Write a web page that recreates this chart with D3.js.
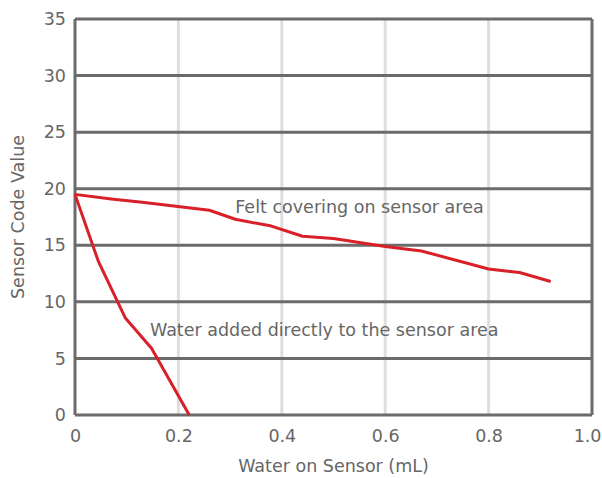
<!DOCTYPE html>
<html>
<head>
<meta charset="utf-8">
<script src="https://cdn.jsdelivr.net/npm/d3@7"></script>
<style>
  body { margin: 0; background: #fff; }
  text { font-family: "DejaVu Sans", sans-serif; fill: #666; }
</style>
</head>
<body>
<svg id="chart"></svg>
<script>
// Felt covering on sensor area
const feltX = [0, 0.07, 0.13, 0.26, 0.31, 0.38, 0.44, 0.5, 0.6, 0.67, 0.8, 0.86, 0.92]
const feltY = [19.5, 19.1, 18.8, 18.1, 17.3, 16.7, 15.8, 15.6, 14.9, 14.5, 12.9, 12.6, 11.8]

// Water added directly to the sensor area
const waterX = [0, 0.045, 0.097, 0.148, 0.221]
const waterY = [19.5, 13.6, 8.6, 5.9, 0]

const xTicks = [0, 0.2, 0.4, 0.6, 0.8, 1.0]
const yTicks = [0, 5, 10, 15, 20, 25, 30, 35]

const W = 602, H = 478
const margin = { top: 19, right: 10, bottom: 63, left: 75 }
const width = W - margin.left - margin.right
const height = H - margin.top - margin.bottom
const fontSize = '17.5px'

const svg = d3.select('#chart')
    .attr('width', W)
    .attr('height', H)

const g = svg.append('g')
    .attr('transform', `translate(${margin.left},${margin.top})`)

const x = d3.scaleLinear().domain([0, 1]).range([0, width])
const y = d3.scaleLinear().domain([0, 35]).range([height, 0])

// Light vertical gridlines
g.selectAll('.vgrid')
    .data(xTicks.slice(1, -1))
    .enter()
    .append('line')
    .attr('x1', d => x(d)).attr('x2', d => x(d))
    .attr('y1', 0).attr('y2', height)
    .style('stroke', '#dedede')
    .style('stroke-width', 3)

// Dark horizontal gridlines
g.selectAll('.hgrid')
    .data(yTicks)
    .enter()
    .append('line')
    .attr('x1', 0).attr('x2', width)
    .attr('y1', d => y(d)).attr('y2', d => y(d))
    .style('stroke', '#6b6b6b')
    .style('stroke-width', 3)

// Side borders
g.selectAll('.side')
    .data([0, 1])
    .enter()
    .append('line')
    .attr('x1', d => x(d)).attr('x2', d => x(d))
    .attr('y1', 0).attr('y2', height)
    .style('stroke', '#6b6b6b')
    .style('stroke-width', 3)

// Axes (labels only)
const xAxis = g.append('g')
    .attr('transform', `translate(0,${height})`)
    .call(d3.axisBottom(x).tickValues(xTicks).tickSize(0).tickPadding(15)
        .tickFormat(d => d === 0 ? '0' : d3.format('.1f')(d)))
xAxis.select('.domain').remove()
xAxis.selectAll('text').style('font-size', fontSize).style('fill', '#666')
// last label sits against the right edge, as in the original
xAxis.selectAll('.tick:last-of-type text')
    .attr('text-anchor', 'end')
    .attr('dx', 9)

const yAxis = g.append('g')
    .call(d3.axisLeft(y).tickValues(yTicks).tickSize(0).tickPadding(9))
yAxis.select('.domain').remove()
yAxis.selectAll('text').style('font-size', fontSize).style('fill', '#666')

// Lines
const line = d3.line()
    .x(d => x(d[0]))
    .y(d => y(d[1]))

const series = [
    d3.zip(feltX, feltY),
    d3.zip(waterX, waterY)
]

g.selectAll('.series')
    .data(series)
    .enter()
    .append('path')
    .attr('d', line)
    .style('fill', 'none')
    .style('stroke', '#d91f27')
    .style('stroke-width', 3)
    .style('stroke-linejoin', 'round')

// Line labels
g.append('text')
    .attr('x', x(0.31))
    .attr('y', y(17.85))
    .style('font-size', fontSize)
    .text('Felt covering on sensor area')

g.append('text')
    .attr('x', x(0.145))
    .attr('y', y(7.0))
    .style('font-size', fontSize)
    .text('Water added directly to the sensor area')

// Axis titles
svg.append('text')
    .attr('x', margin.left + width / 2)
    .attr('y', 472)
    .attr('text-anchor', 'middle')
    .style('font-size', fontSize)
    .text('Water on Sensor (mL)')

svg.append('text')
    .attr('transform', `translate(24,${margin.top + height / 2}) rotate(-90)`)
    .attr('text-anchor', 'middle')
    .style('font-size', fontSize)
    .text('Sensor Code Value')
</script>
</body>
</html>
